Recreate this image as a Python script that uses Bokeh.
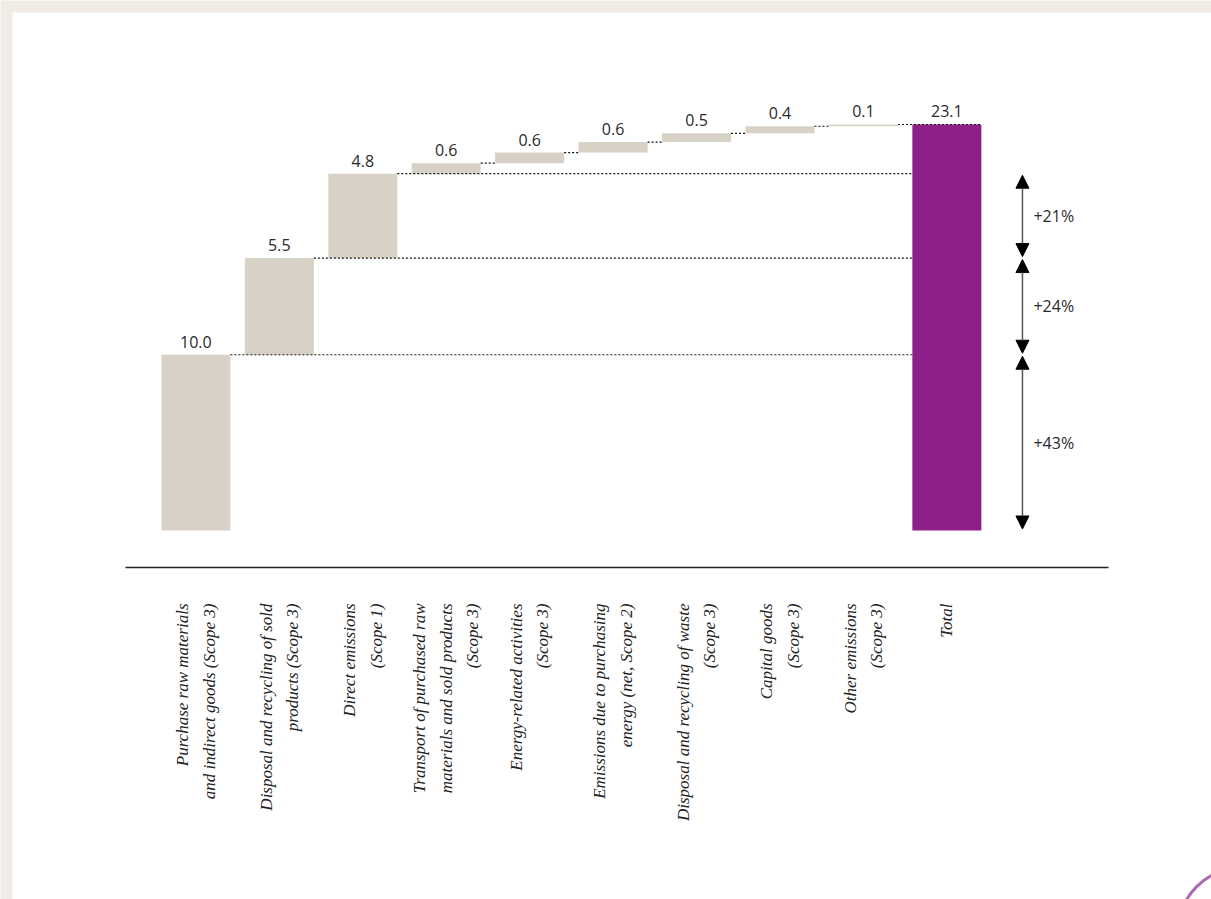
import numpy as np
from bokeh.plotting import figure
from bokeh.models import Range1d, ColumnDataSource, Arrow, NormalHead
from bokeh.core.properties import value
from bokeh.embed import file_html
from bokeh.resources import INLINE

# ---------------- data ----------------
categories = [
    "Purchase raw materials\nand indirect goods (Scope 3)",
    "Disposal and recycling of sold\nproducts (Scope 3)",
    "Direct emissions\n(Scope 1)",
    "Transport of purchased raw\nmaterials and sold products\n(Scope 3)",
    "Energy-related activities\n(Scope 3)",
    "Emissions due to purchasing\nenergy (net, Scope 2)",
    "Disposal and recycling of waste\n(Scope 3)",
    "Capital goods\n(Scope 3)",
    "Other emissions\n(Scope 3)",
    "Total",
]
values = [10.0, 5.5, 4.8, 0.6, 0.6, 0.6, 0.5, 0.4, 0.1]
total = 23.1
value_labels = ["10.0", "5.5", "4.8", "0.6", "0.6", "0.6", "0.5", "0.4", "0.1", "23.1"]
share_labels = ["+43%", "+24%", "+21%"]

# ---------------- styling / layout ----------------
BEIGE_BAR = "#D8D2C6"
PURPLE = "#8C2088"
PAGE_BG = "#F0ECE5"
W = 0.827          # bar width in category units
PX_X = 83.44       # pixels per category (horizontal)
PX_Y = 17.576      # pixels per data unit (vertical)

n = len(values)
xs = np.arange(n)
tops = np.cumsum(values)
bottoms = tops - np.array(values)
total_x = n

p = figure(width=1211, height=899, output_backend="svg", toolbar_location=None,
           x_range=Range1d(-2.3418, 12.1716), y_range=Range1d(-20.995, 30.155),
           min_border=0, x_axis_location=None, y_axis_location=None,
           background_fill_color=PAGE_BG, border_fill_color=PAGE_BG,
           outline_line_color=None)
p.grid.visible = False

# white page area (beige strip remains on top/left)
p.quad(left=[-2.198], right=[13], bottom=[-22], top=[29.472],
       fill_color="white", line_color=None)

# step bars
src = ColumnDataSource(dict(x=xs, top=tops, bottom=bottoms))
p.vbar(x="x", top="top", bottom="bottom", width=W, source=src,
       fill_color=BEIGE_BAR, line_color=None)
# total bar
p.vbar(x=[total_x], top=[total], bottom=[0], width=W,
       fill_color=PURPLE, line_color=None)

# dotted connectors
x0s, x1s, ys = [], [], []
for i in range(n):
    x0s.append(i + W / 2)
    if i < len(share_labels):
        x1s.append(total_x - W / 2)
    elif i == n - 1:
        x1s.append(total_x + W / 2)
    else:
        x1s.append(i + 1 - W / 2)
    ys.append(tops[i])
p.segment(x0=x0s, y0=ys, x1=x1s, y1=ys, line_color="#111111",
          line_width=1.2, line_dash="2 2")

# value labels
lab_x = list(xs) + [total_x]
lab_y = list(tops + 7 / PX_Y) + [total + 7 / PX_Y]
p.text(x=lab_x, y=lab_y, text=value_labels, text_align="center",
       text_baseline="bottom", text_font=value("Open Sans"),
       text_font_size="16px", text_color="#2a2a2a")

# baseline
base_y = -37 / PX_Y
p.segment(x0=[-0.8437], y0=[base_y], x1=[10.937], y1=[base_y],
          line_color="#222222", line_width=1.5)

# rotated category labels
cat_y = -73 / PX_Y
p.text(x=list(xs) + [total_x], y=[cat_y] * (n + 1), text=categories,
       angle=np.pi / 2, text_align="right", text_baseline="middle",
       text_font=value("Liberation Serif"), text_font_style="italic",
       text_font_size="17px", text_color="#222222", text_line_height=1.4)

# share arrows
arrow_x = total_x + 0.906
levels = [0.0] + list(tops[:len(share_labels)])
gap = 1.5 / PX_Y
for k, lab in enumerate(share_labels):
    lo, hi = levels[k], levels[k + 1]
    p.add_layout(Arrow(
        start=NormalHead(size=13, fill_color="black", line_color="black"),
        end=NormalHead(size=13, fill_color="black", line_color="black"),
        x_start=arrow_x, y_start=lo + gap, x_end=arrow_x, y_end=hi - gap,
        line_color="#555555", line_width=1.5))
p.text(x=[arrow_x + 11 / PX_X] * len(share_labels),
       y=[(levels[k] + levels[k + 1]) / 2 for k in range(len(share_labels))],
       text=share_labels, text_align="left", text_baseline="middle",
       text_font=value("Open Sans"), text_font_size="16px", text_color="#2a2a2a")

# decorative purple ring in the bottom-right corner of the page
p.scatter(x=[(1240 - 195.4) / PX_X], y=[(530 - 930) / PX_Y], size=124,
          marker="circle", fill_color=None, line_color="#9C50A0",
          line_width=3, line_alpha=0.85)

open("out.html", "w").write(file_html(p, INLINE))
